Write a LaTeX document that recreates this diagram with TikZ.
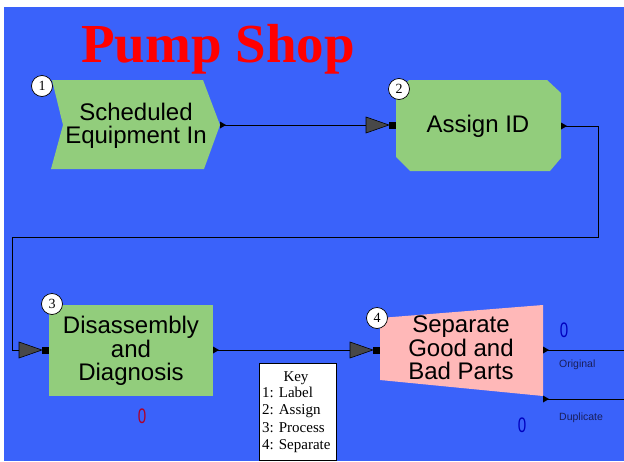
\documentclass[tikz,border=0pt]{standalone}
\usepackage{fontspec}
\usetikzlibrary{calc}
\setmainfont{Liberation Serif}
\setsansfont{Liberation Sans}
\definecolor{bg}{RGB}{58,98,250}
\definecolor{modgreen}{RGB}{146,205,124}
\definecolor{modpink}{RGB}{255,184,184}
\definecolor{arrowgray}{RGB}{72,72,72}
\definecolor{cntred}{RGB}{175,0,40}
\definecolor{cntblue}{RGB}{0,0,190}
\definecolor{portlbl}{RGB}{25,30,90}
\begin{document}
\begin{tikzpicture}[x=1pt,y=-1pt,
  lbl/.style={font=\sffamily\fontsize{24}{23.5}\selectfont, align=center, text=black, inner sep=0pt},
  badge/.style={circle, draw=black, line width=0.7pt, fill=white, inner sep=0pt, minimum size=21pt, font=\fontsize{14}{14}\selectfont},
  conn/.style={draw=black, line width=1pt},
  counter/.style={font=\sffamily\fontsize{21}{21}\selectfont, inner sep=0pt, xscale=0.72},
  portname/.style={font=\sffamily\fontsize{10.5}{10.5}\selectfont, text=portlbl, anchor=west, inner sep=0pt},
  keytext/.style={font=\fontsize{15}{17}\selectfont, anchor=base west, inner sep=0pt},
  inarrow/.pic={\filldraw[fill=arrowgray, draw=black, line width=0.6pt] (-30,-8) -- (-7,0) -- (-30,8) -- cycle;
                \fill[black] (-7,-3.5) rectangle (0,3.5);},
  outarrow/.pic={\fill[black] (0,-3.5) -- (6,0) -- (0,3.5) -- cycle;}]
\useasboundingbox (0,0) rectangle (624,461);
\fill[white] (0,0) rectangle (624,461);
\fill[bg] (4,7) rectangle (624,461);

% title
\node[text=red, font=\bfseries\fontsize{55}{55}\selectfont, anchor=base, inner sep=0pt] (title) at (218,62) {Pump Shop};

% module shapes
\fill[modgreen] (52,80) -- (203,80) -- (220,125) -- (204,169) -- (51,169) -- (63,125) -- cycle;
\fill[modgreen] (409,80) -- (547,80) -- (561,93) -- (561,158) -- (550,171) -- (410,171) -- (396,157) -- (396,93) -- cycle;
\fill[modgreen] (49,305) rectangle (213,396);
\fill[modpink] (380,318) -- (543,305) -- (543,396) -- (380,380) -- cycle;

% labels
\node[lbl] (m1) at (136,126) {Scheduled\\Equipment In};
\node[lbl] (m2) at (478,126) {Assign ID};
\node[lbl] (m3) at (131,351) {Disassembly\\and\\Diagnosis};
\node[lbl] (m4) at (461,348) {Separate\\Good and\\Bad Parts};

% ports
\coordinate (out1) at (220,125);
\coordinate (in2) at (396,125);
\coordinate (out2) at (561,126);
\coordinate (bendA) at (598,237);
\coordinate (bendB) at (12,237);
\coordinate (in3) at (49,350);
\coordinate (out3) at (213,350);
\coordinate (in4) at (380,350);
\coordinate (out4a) at (543,350);
\coordinate (out4b) at (543,399);
\coordinate (endA) at (624,350);
\coordinate (endB) at (624,399);

% connectors
\draw[conn] (out1) -- ($(in2)+(-30,0)$);
\draw[conn] (out2) -| (bendA) -- (bendB) |- ($(in3)+(-30,0)$);
\draw[conn] (out3) -- ($(in4)+(-30,0)$);
\draw[conn] (out4a) -- (endA);
\draw[conn] (out4b) -- (endB);

\pic at (in2) {inarrow};
\pic at (in3) {inarrow};
\pic at (in4) {inarrow};
\pic at (out1) {outarrow};
\pic at (out2) {outarrow};
\pic at (out3) {outarrow};
\pic at (out4a) {outarrow};
\pic at (out4b) {outarrow};

% badges
\node[badge] (b1) at (42,86) {1};
\node[badge] (b2) at (399,89) {2};
\node[badge] (b3) at (52,304) {3};
\node[badge] (b4) at (377,318) {4};

% counters
\node[counter, text=cntred] (c3) at (142,416) {0};
\node[counter, text=cntblue] (c4a) at (564,330) {0};
\node[counter, text=cntblue] (c4b) at (522,425) {0};

% port names
\node[portname] (pOrig) at (559,365) {Original};
\node[portname] (pDup) at (559,418) {Duplicate};

% key
\fill[white, draw=black, line width=0.8pt] (259,363) rectangle (336,460);
\node[font=\fontsize{15}{17}\selectfont, anchor=base, inner sep=0pt] (key0) at (296,381) {Key};
\node[keytext] (key1) at (262,397) {1: Label};
\node[keytext] (key2) at (262,414) {2: Assign};
\node[keytext] (key3) at (262,432) {3: Process};
\node[keytext] (key4) at (262,449) {4: Separate};
\end{tikzpicture}
\end{document}
